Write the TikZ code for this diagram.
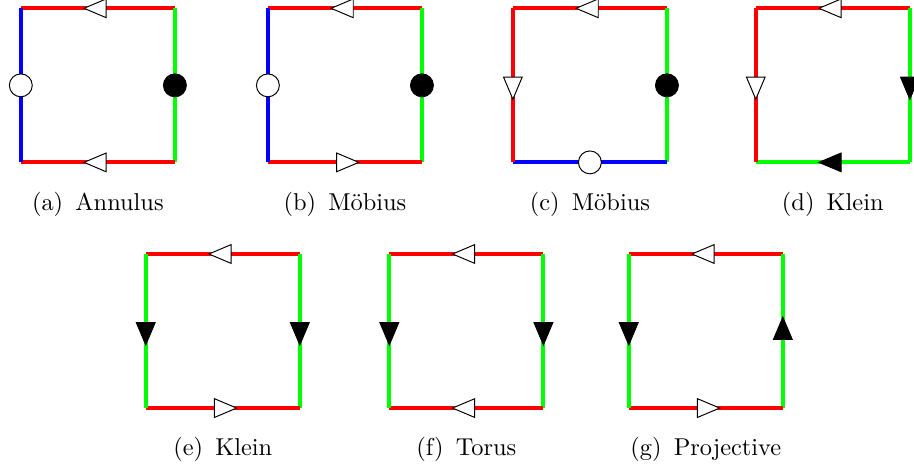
\documentclass[tikz,border=0pt]{standalone}
\usepackage{xcolor}
\usepackage{tikz}
\usetikzlibrary{positioning,decorations.markings}

\tikzset{
  side/.style={line width=1.6pt},
  tri/.style={postaction={decorate,decoration={markings,mark=at position 0.5 with {\filldraw[fill=#1,draw=black,line width=0.4pt] (0.2,0) -- (-0.12,0.135) -- (-0.12,-0.135) -- cycle;}}}},
  hole/.style={circle,draw=black,line width=0.4pt,fill=#1,minimum size=0.33cm,inner sep=0pt}
}

\begin{document}
\begin{tikzpicture}
    \useasboundingbox (0,0) rectangle (13.17,6.71);

    % (a) Annulus
    \coordinate (a1) at (0.30,4.37);
    \coordinate (a2) at (2.52,4.37);
    \coordinate (a3) at (2.52,6.59);
    \coordinate (a4) at (0.30,6.59);
    \draw[side,red,tri=white] (a3) -- (a4);
    \draw[side,green] (a2) -- (a3) node[midway,hole=black] (ap) {};
    \draw[side,red,tri=white] (a2) -- (a1);
    \draw[side,blue] (a1) -- (a4) node[midway,hole=white] (aq) {};
    \node (la) at (1.41,3.76) {(a)\hspace{0.5em}Annulus};

    % (b) Moebius
    \coordinate (b1) at (3.86,4.37);
    \coordinate (b2) at (6.08,4.37);
    \coordinate (b3) at (6.08,6.59);
    \coordinate (b4) at (3.86,6.59);
    \draw[side,red,tri=white] (b3) -- (b4);
    \draw[side,green] (b2) -- (b3) node[midway,hole=black] (bp) {};
    \draw[side,red,tri=white] (b1) -- (b2);
    \draw[side,blue] (b1) -- (b4) node[midway,hole=white] (bq) {};
    \node (lb) at (4.97,3.76) {(b)\hspace{0.5em}Möbius};

    % (c) Moebius
    \coordinate (c1) at (7.39,4.37);
    \coordinate (c2) at (9.61,4.37);
    \coordinate (c3) at (9.61,6.59);
    \coordinate (c4) at (7.39,6.59);
    \draw[side,red,tri=white] (c3) -- (c4);
    \draw[side,green] (c2) -- (c3) node[midway,hole=black] (cp) {};
    \draw[side,blue] (c1) -- (c2) node[midway,hole=white] (cq) {};
    \draw[side,red,tri=white] (c4) -- (c1);
    \node (lc) at (8.50,3.76) {(c)\hspace{0.5em}Möbius};

    % (d) Klein
    \coordinate (d1) at (10.89,4.37);
    \coordinate (d2) at (13.11,4.37);
    \coordinate (d3) at (13.11,6.59);
    \coordinate (d4) at (10.89,6.59);
    \draw[side,red,tri=white] (d3) -- (d4);
    \draw[side,green,tri=black] (d3) -- (d2);
    \draw[side,green,tri=black] (d2) -- (d1);
    \draw[side,red,tri=white] (d4) -- (d1);
    \node (ld) at (12.00,3.76) {(d)\hspace{0.5em}Klein};

    % (e) Klein
    \coordinate (e1) at (2.10,0.83);
    \coordinate (e2) at (4.32,0.83);
    \coordinate (e3) at (4.32,3.05);
    \coordinate (e4) at (2.10,3.05);
    \draw[side,red,tri=white] (e3) -- (e4);
    \draw[side,green,tri=black] (e3) -- (e2);
    \draw[side,red,tri=white] (e1) -- (e2);
    \draw[side,green,tri=black] (e4) -- (e1);
    \node (le) at (3.21,0.23) {(e)\hspace{0.5em}Klein};

    % (f) Torus
    \coordinate (f1) at (5.61,0.83);
    \coordinate (f2) at (7.83,0.83);
    \coordinate (f3) at (7.83,3.05);
    \coordinate (f4) at (5.61,3.05);
    \draw[side,red,tri=white] (f3) -- (f4);
    \draw[side,green,tri=black] (f3) -- (f2);
    \draw[side,red,tri=white] (f2) -- (f1);
    \draw[side,green,tri=black] (f4) -- (f1);
    \node (lf) at (6.72,0.23) {(f)\hspace{0.5em}Torus};

    % (g) Projective
    \coordinate (g1) at (9.06,0.83);
    \coordinate (g2) at (11.28,0.83);
    \coordinate (g3) at (11.28,3.05);
    \coordinate (g4) at (9.06,3.05);
    \draw[side,red,tri=white] (g3) -- (g4);
    \draw[side,green,tri=black] (g2) -- (g3);
    \draw[side,red,tri=white] (g1) -- (g2);
    \draw[side,green,tri=black] (g4) -- (g1);
    \node (lg) at (10.17,0.23) {(g)\hspace{0.5em}Projective};
\end{tikzpicture}
\end{document}
